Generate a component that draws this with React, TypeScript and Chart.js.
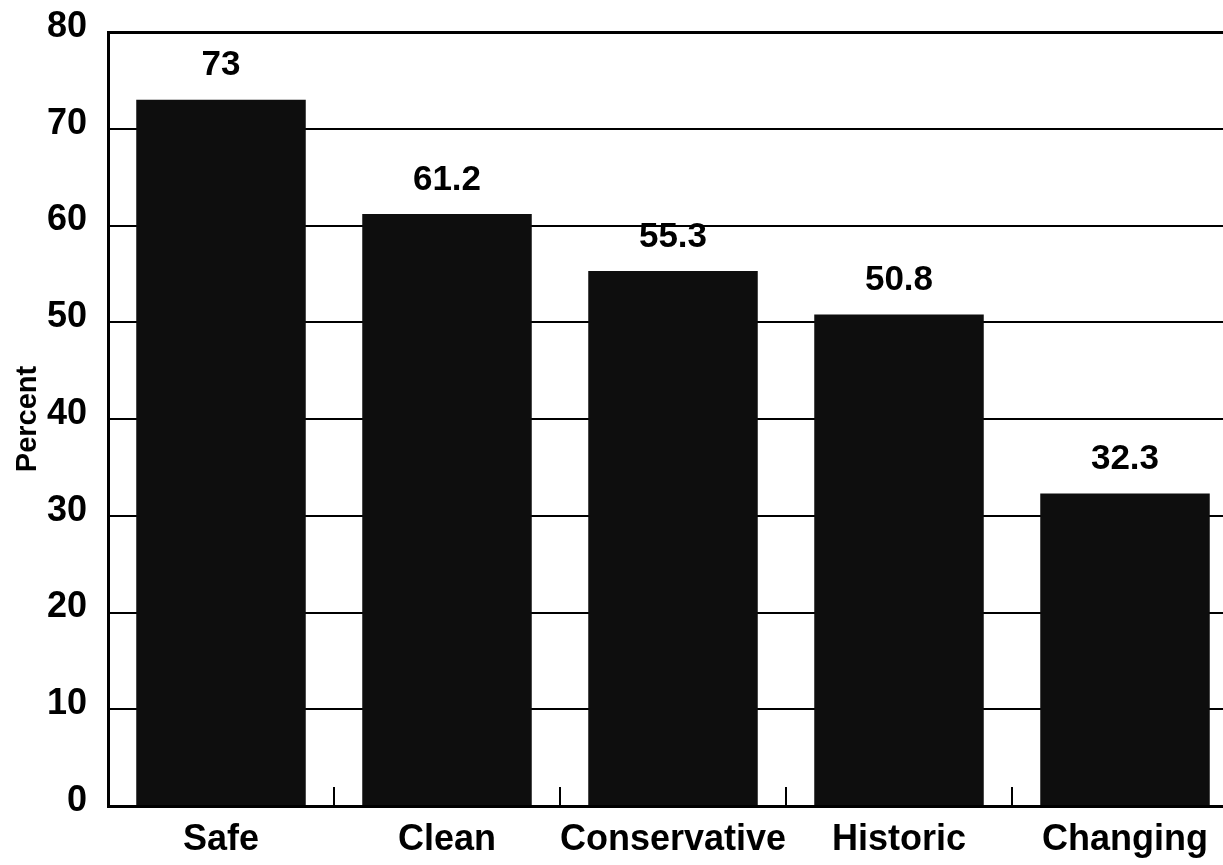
import React, { useEffect, useRef } from "react";
import { Chart, registerables } from "chart.js";

Chart.register(...registerables);

const categories = ["Safe", "Clean", "Conservative", "Historic", "Changing"];
const percentValues = [73, 61.2, 55.3, 50.8, 32.3];
const yTickValues = [0, 10, 20, 30, 40, 50, 60, 70, 80];
const yAxisTitle = "Percent";

const FONT = "'Liberation Sans', Arial, Helvetica, sans-serif";

// Writes each bar's value centred above it.
const valueLabels = {
  id: "valueLabels",
  afterDatasetsDraw(chart: any) {
    const { ctx } = chart;
    const meta = chart.getDatasetMeta(0);
    const data = chart.data.datasets[0].data as number[];
    ctx.save();
    ctx.font = `bold 35px ${FONT}`;
    ctx.fillStyle = "#000";
    ctx.textAlign = "center";
    ctx.textBaseline = "middle";
    meta.data.forEach((bar: any, i: number) => {
      ctx.fillText(String(data[i]), bar.x, bar.y - 34);
    });
    ctx.restore();
  },
};

export default function App() {
  const canvasRef = useRef<HTMLCanvasElement | null>(null);

  useEffect(() => {
    const canvas = canvasRef.current;
    if (!canvas) return;
    const chart = new Chart(canvas, {
      type: "bar",
      data: {
        labels: categories,
        datasets: [
          {
            data: percentValues,
            backgroundColor: "#0e0e0e",
            borderWidth: 0,
            barPercentage: 0.75,
            categoryPercentage: 1,
          },
        ],
      },
      options: {
        animation: false,
        responsive: false,
        devicePixelRatio: 1,
        layout: { padding: { left: 0, top: 24, right: 10, bottom: 0 } },
        plugins: {
          legend: { display: false },
          tooltip: { enabled: false },
        },
        scales: {
          x: {
            offset: true,
            afterFit: (scale: any) => {
              scale.height = 59;
              scale.paddingLeft = 0;
              scale.paddingRight = 0;
            },
            grid: {
              display: true,
              offset: true,
              drawOnChartArea: false,
              drawTicks: true,
              tickLength: -19,
              lineWidth: 2,
              color: "#000",
            },
            border: { display: true, width: 3, color: "#000" },
            ticks: {
              padding: 31,
              color: "#000",
              font: { family: FONT, size: 36, weight: "bold" },
              maxRotation: 0,
              autoSkip: false,
            },
          },
          y: {
            min: 0,
            max: 80,
            afterFit: (scale: any) => {
              scale.width = 100;
              scale.paddingTop = 0;
              scale.paddingBottom = 0;
            },
            afterBuildTicks: (scale: any) => {
              scale.ticks = yTickValues.map((v) => ({ value: v }));
            },
            grid: {
              drawTicks: false,
              color: "#000",
              lineWidth: (c: any) => (c.tick && c.tick.value === 80 ? 3 : 2),
            },
            border: { display: true, width: 3, color: "#000" },
            ticks: {
              padding: 21,
              labelOffset: -5,
              color: "#000",
              font: { family: FONT, size: 36, weight: "bold" },
            },
            title: {
              display: true,
              text: yAxisTitle,
              color: "#000",
              padding: 0,
              font: { family: FONT, size: 29, weight: "bold", lineHeight: 1.4 },
            },
          },
        },
      },
      plugins: [valueLabels],
    });
    return () => chart.destroy();
  }, []);

  return (
    <div style={{ position: "fixed", left: 8, top: 8, width: 1215, height: 857, overflow: "hidden" }}>
      <canvas ref={canvasRef} width={1240} height={857} style={{ display: "block" }} />
    </div>
  );
}
